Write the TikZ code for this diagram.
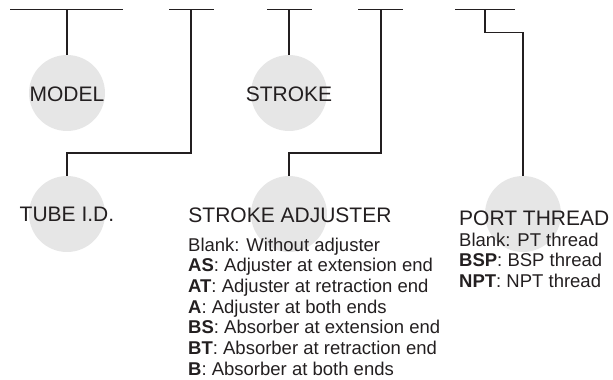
\documentclass[tikz,border=0pt]{standalone}
\usepackage{fontspec}
\setmainfont{Liberation Sans}
\definecolor{ink}{HTML}{231F20}
\definecolor{discgray}{HTML}{E6E6E6}
\tikzset{
  bar/.style={draw=ink,line width=1.3pt},
  disc/.style={circle,fill=discgray,minimum size=76pt,inner sep=0pt},
  title/.style={anchor=base,text=ink,inner sep=0pt,font=\fontsize{21}{25}\selectfont},
  item/.style={anchor=base west,text=ink,inner sep=0pt,font=\fontsize{18.5}{21}\selectfont},
}
\begin{document}
\begin{tikzpicture}[x=1pt,y=-1pt]
\useasboundingbox (0,0) rectangle (613,380);
\def\ax{188}
\def\px{459}
% code bars
\coordinate (b1l) at (10,9.5);  \coordinate (b1r) at (123,9.5); \coordinate (b1) at (67,9.5);
\coordinate (b2l) at (169,9.5); \coordinate (b2r) at (214,9.5); \coordinate (b2) at (191,9.5);
\coordinate (b3l) at (267,9.5); \coordinate (b3r) at (312,9.5); \coordinate (b3) at (289,9.5);
\coordinate (b4l) at (358,9.5); \coordinate (b4r) at (403,9.5); \coordinate (b4) at (381,9.5);
\coordinate (b5l) at (455,9.5); \coordinate (b5r) at (515,9.5); \coordinate (b5) at (485,9.5);
\draw[bar] (b1l) -- (b1r);
\draw[bar] (b2l) -- (b2r);
\draw[bar] (b3l) -- (b3r);
\draw[bar] (b4l) -- (b4r);
\draw[bar] (b5l) -- (b5r);
% discs
\node (model) [disc] at (67,93) {};
\node (stroke) [disc] at (289,93) {};
\node (tube) [disc] at (67,214) {};
\node (adjuster) [disc] at (289,214) {};
\node (port) [disc] at (523,214) {};
% connectors
\draw[bar] (b1) -- (model.north);
\draw[bar] (b3) -- (stroke.north);
\draw[bar] (b2) -- ++(0,143.5) -| (tube.north);
\draw[bar] (b4) -- ++(0,143.5) -| (adjuster.north);
\draw[bar] (b5) -- ++(0,22.8) -| (port.north);
% titles
\node (tmodel) [title] at (67,101) {MODEL};
\node (tstroke) [title] at (289,101) {STROKE};
\node (ttube) [title] at (67,221) {TUBE I.D.};
\node (tadjuster) [title] at (290,222) {STROKE ADJUSTER};
\node (tport) [title,anchor=base west] at (\px,225.5) {PORT THREAD};
% adjuster codes
\node (adj0) [item] at (\ax,251) {Blank: Without adjuster};
\node (adj1) [item] at (\ax,271.7) {\textbf{AS}: Adjuster at extension end};
\node (adj2) [item] at (\ax,292.4) {\textbf{AT}: Adjuster at retraction end};
\node (adj3) [item] at (\ax,313.1) {\textbf{A}: Adjuster at both ends};
\node (adj4) [item] at (\ax,333.8) {\textbf{BS}: Absorber at extension end};
\node (adj5) [item] at (\ax,354.5) {\textbf{BT}: Absorber at retraction end};
\node (adj6) [item] at (\ax,375.2) {\textbf{B}: Absorber at both ends};
% port codes
\node (port0) [item] at (\px,246.5) {Blank: PT thread};
\node (port1) [item] at (\px,266.8) {\textbf{BSP}: BSP thread};
\node (port2) [item] at (\px,287.1) {\textbf{NPT}: NPT thread};
\end{tikzpicture}
\end{document}
